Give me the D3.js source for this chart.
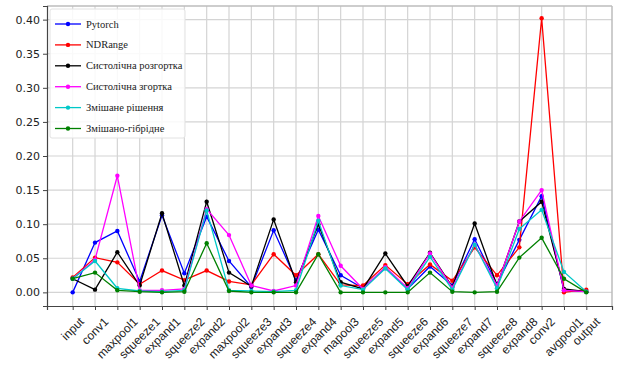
<!DOCTYPE html>
<html>
<head>
<meta charset="utf-8">
<script src="https://cdn.jsdelivr.net/npm/d3@7"></script>
<style>
  body { margin: 0; background: #fff; }
</style>
</head>
<body>
<div id="chart"></div>
<script>
var layers = ['input', 'conv1', 'maxpool1', 'squeeze1', 'expand1', 'squeeze2', 'expand2',
    'maxpool2', 'squeeze3', 'expand3', 'squeeze4', 'expand4', 'mapool3', 'squeeze5',
    'expand5', 'squeeze6', 'expand6', 'squeeze7', 'expand7', 'squeeze8', 'expand8',
    'conv2', 'avgpool1', 'output'];

var pytorch   = [0.000, 0.073, 0.090, 0.016, 0.113, 0.028, 0.111, 0.046, 0.008, 0.091, 0.018, 0.092,
                 0.025, 0.006, 0.036, 0.005, 0.038, 0.010, 0.078, 0.012, 0.077, 0.141, 0.003, 0.001];
var ndrange   = [0.022, 0.051, 0.044, 0.012, 0.032, 0.018, 0.032, 0.016, 0.011, 0.056, 0.025, 0.056,
                 0.011, 0.010, 0.040, 0.012, 0.041, 0.017, 0.066, 0.025, 0.066, 0.402, 0.000, 0.004];
var unrolled  = [0.020, 0.004, 0.059, 0.010, 0.116, 0.010, 0.133, 0.029, 0.009, 0.107, 0.015, 0.100,
                 0.015, 0.005, 0.057, 0.009, 0.058, 0.008, 0.101, 0.010, 0.104, 0.133, 0.005, 0.001];
var rolled    = [0.020, 0.048, 0.171, 0.003, 0.003, 0.005, 0.122, 0.084, 0.010, 0.002, 0.010, 0.112,
                 0.039, 0.005, 0.037, 0.006, 0.057, 0.007, 0.070, 0.010, 0.104, 0.150, 0.003, 0.001];
var mixed     = [0.020, 0.046, 0.006, 0.002, 0.001, 0.003, 0.120, 0.003, 0.002, 0.001, 0.003, 0.105,
                 0.010, 0.004, 0.035, 0.004, 0.052, 0.004, 0.070, 0.006, 0.093, 0.121, 0.030, 0.001];
var hybrid    = [0.020, 0.029, 0.003, 0.001, 0.000, 0.001, 0.072, 0.002, 0.000, 0.000, 0.000, 0.056,
                 0.000, 0.000, 0.000, 0.000, 0.029, 0.001, 0.000, 0.001, 0.051, 0.080, 0.020, 0.000];

var seriesNames  = ['Pytorch', 'NDRange', 'Систолічна розгортка', 'Систолічна згортка',
                    'Змішане рішення', 'Змішано-гібрідне'];
var seriesValues = [pytorch, ndrange, unrolled, rolled, mixed, hybrid];
var colors       = ['#0000ff', '#ff0000', '#000000', '#ff00ff', '#00c8c8', '#008000'];
var yTicks       = [0.00, 0.05, 0.10, 0.15, 0.20, 0.25, 0.30, 0.35, 0.40];

var width   = 617,
    height  = 381,
    plotL   = 47,
    plotR   = 612,
    plotT   = 6,
    plotB   = 306,
    fs      = 11,
    xfs     = 12;

var svg = d3.select('#chart').append('svg')
    .attr('width', width)
    .attr('height', height)
    .style('font-family', '"DejaVu Sans", sans-serif');

var x = d3.scaleLinear().domain([-1.15, layers.length - 1 + 1.15]).range([plotL, plotR]);
var y = d3.scaleLinear().domain([-0.02, 0.42]).range([plotB, plotT]);

// grid
svg.append('g').selectAll('line')
    .data(layers)
    .enter().append('line')
    .attr('x1', function(d, i) { return x(i); })
    .attr('x2', function(d, i) { return x(i); })
    .attr('y1', plotT).attr('y2', plotB)
    .style('stroke', '#d4d4d4').style('stroke-width', 1.2);
svg.append('g').selectAll('line')
    .data(yTicks)
    .enter().append('line')
    .attr('x1', plotL).attr('x2', plotR)
    .attr('y1', function(d) { return y(d); })
    .attr('y2', function(d) { return y(d); })
    .style('stroke', '#d4d4d4').style('stroke-width', 1.2);

// frame
svg.append('line').attr('x1', plotL).attr('x2', plotR).attr('y1', plotT).attr('y2', plotT)
    .style('stroke', '#bdbdbd').style('stroke-width', 1.5);
svg.append('line').attr('x1', plotR).attr('x2', plotR).attr('y1', plotT).attr('y2', plotB)
    .style('stroke', '#bdbdbd').style('stroke-width', 1.5);

var xAxis = svg.append('g')
    .attr('transform', 'translate(0,' + plotB + ')')
    .call(d3.axisBottom(x).tickValues(d3.range(layers.length)).tickSize(4).tickFormat(''));
var yAxis = svg.append('g')
    .attr('transform', 'translate(' + plotL + ',0)')
    .call(d3.axisLeft(y).tickValues(yTicks).tickSize(4).tickFormat(d3.format('.2f')));

[xAxis, yAxis].forEach(function(a) {
    a.select('.domain').style('stroke', '#444').style('stroke-width', 1.2);
    a.selectAll('.tick line').style('stroke', '#444');
});
yAxis.selectAll('.tick text')
    .style('font-size', fs + 'px')
    .style('font-family', '"DejaVu Sans", sans-serif')
    .style('fill', '#222')
    .attr('x', -7);

// rotated category labels, centred under each tick
xAxis.selectAll('.lbl')
    .data(layers)
    .enter().append('text')
    .attr('class', 'lbl')
    .attr('text-anchor', 'middle')
    .attr('dominant-baseline', 'central')
    .style('font-size', xfs + 'px')
    .style('fill', '#222')
    .text(function(d) { return d; })
    .attr('transform', function(d, i) {
        var len = this.getComputedTextLength(),
            h = (len + xfs * 1.1) * Math.SQRT1_2;
        return 'translate(' + x(i) + ',' + (9 + h / 2) + ') rotate(-45)';
    });

// series
var line = d3.line()
    .x(function(d, i) { return x(i); })
    .y(function(d) { return y(d); });

seriesValues.forEach(function(vals, k) {
    var g = svg.append('g');
    g.append('path')
        .attr('d', line(vals))
        .style('fill', 'none')
        .style('stroke', colors[k])
        .style('stroke-width', 1.3);
    g.selectAll('circle')
        .data(vals)
        .enter().append('circle')
        .attr('cx', function(d, i) { return x(i); })
        .attr('cy', function(d) { return y(d); })
        .attr('r', 2.2)
        .style('fill', colors[k]);
});

// legend
var legend = svg.append('g');
legend.append('rect')
    .attr('x', 50).attr('y', 9)
    .attr('width', 135).attr('height', 129)
    .attr('rx', 2)
    .style('fill', '#fff').style('fill-opacity', 0.85)
    .style('stroke', '#e2e2e2');
seriesNames.forEach(function(name, k) {
    var ly = 24 + k * 20.9;
    legend.append('line')
        .attr('x1', 55).attr('x2', 81).attr('y1', ly).attr('y2', ly)
        .style('stroke', colors[k]).style('stroke-width', 1.3);
    legend.append('circle')
        .attr('cx', 68).attr('cy', ly).attr('r', 2.2)
        .style('fill', colors[k]);
    legend.append('text')
        .attr('x', 86).attr('y', ly)
        .attr('dominant-baseline', 'central')
        .style('font-family', '"Liberation Serif", serif')
        .style('font-size', '10.5px')
        .style('fill', '#222')
        .text(name);
});
</script>
</body>
</html>
